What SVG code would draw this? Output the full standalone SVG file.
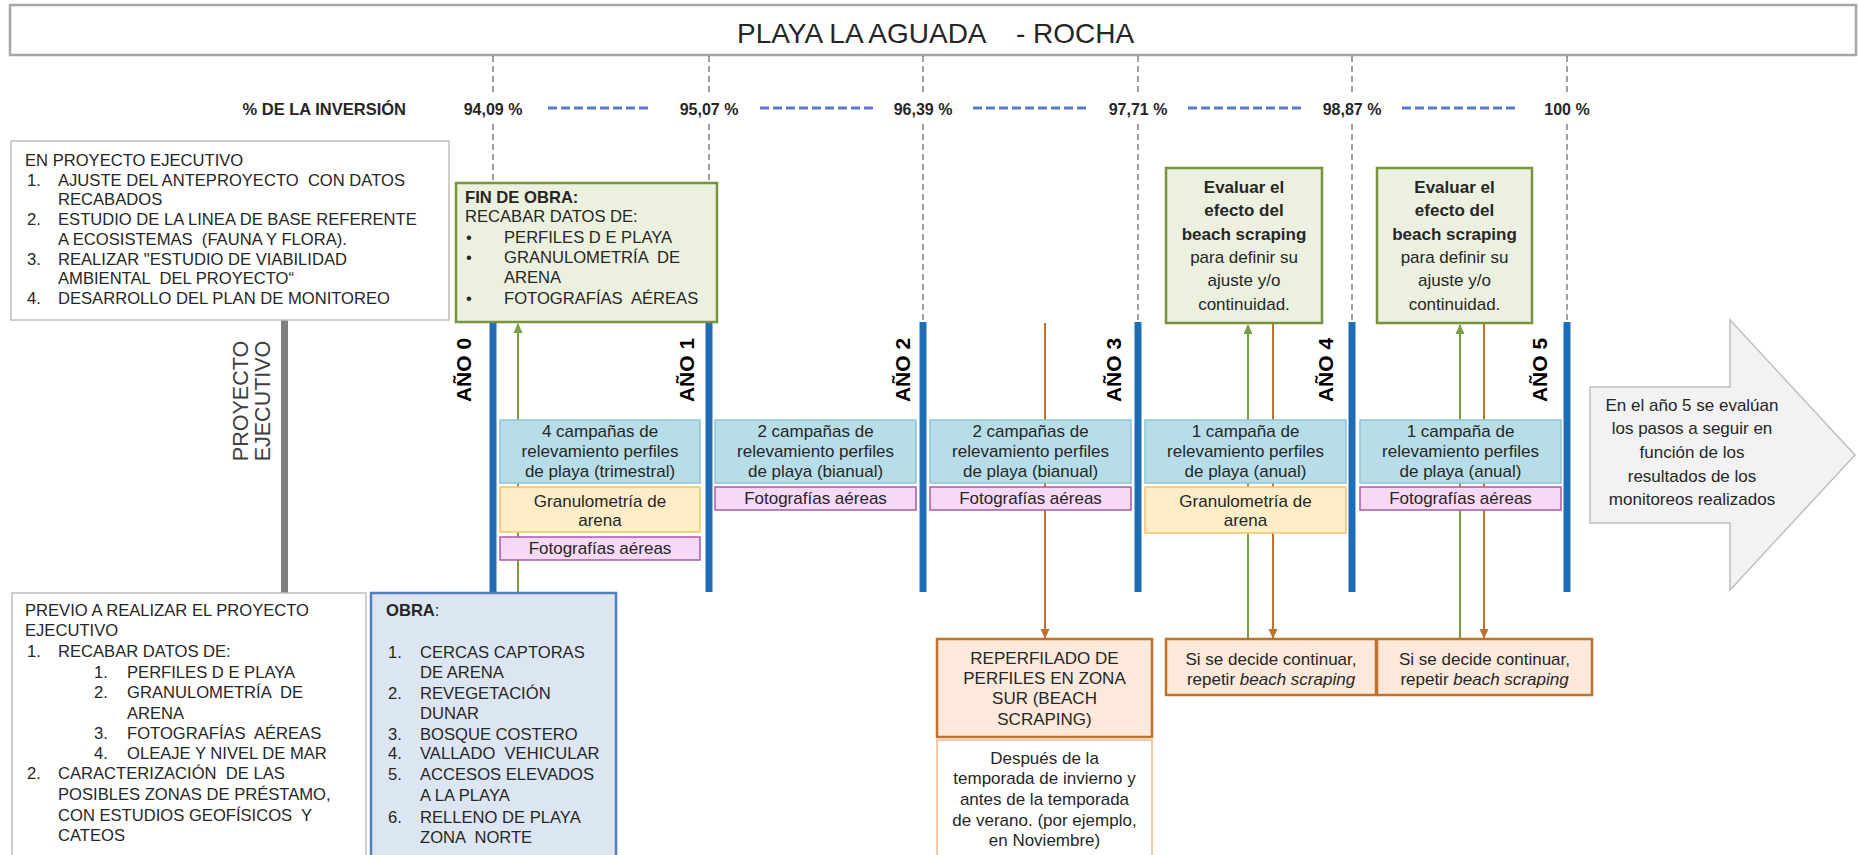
<svg xmlns="http://www.w3.org/2000/svg" width="1859" height="855" viewBox="0 0 1859 855">
<defs>
<marker id="ag" markerWidth="12" markerHeight="12" refX="9" refY="5" orient="auto" markerUnits="userSpaceOnUse"><path d="M0,0.5 L10,5 L0,9.5 Z" fill="#77A043"/></marker>
<marker id="ab" markerWidth="12" markerHeight="12" refX="9" refY="5" orient="auto" markerUnits="userSpaceOnUse"><path d="M0,0.5 L10,5 L0,9.5 Z" fill="#C0712E"/></marker>
</defs>
<style>
text{font-family:'Liberation Sans',Arial,Helvetica,sans-serif;fill:#262626}
.p{white-space:pre}
.u{font-size:16.6px}
.m{font-size:17px}
.c{text-anchor:middle}
.b{font-weight:bold}
.yr{font-size:21px;font-weight:bold;fill:#000;text-anchor:middle}
.pct{font-size:16px;font-weight:bold;text-anchor:middle}
.gray{fill:#fff;stroke:#BFBFBF;stroke-width:1.5}
.grn{fill:#EBF1DE;stroke:#77933C;stroke-width:2.5}
.org{fill:#FCE9DB;stroke:#C0712E;stroke-width:2.5}
.info{fill:#B7DEE8;stroke:#8EC5D6;stroke-width:1.5}
.yel{fill:#FEEDC6;stroke:#F2C46E;stroke-width:1.5}
.pnk{fill:#F7D8F5;stroke:#A75BA8;stroke-width:1.5}
.ydash{stroke:#404040;stroke-width:1;stroke-dasharray:6 4;fill:none}
.pdash{stroke:#5B7BC4;stroke-width:3;stroke-dasharray:9 4;fill:none}
.bar{fill:#1F6DB5}
.lg{stroke:#77A043;stroke-width:2;fill:none}
.lb{stroke:#C0712E;stroke-width:2;fill:none}
</style>

<g id="title">
<rect x="10" y="5" width="1846" height="50" fill="#fff" stroke="#A6A6A6" stroke-width="2.5"/>
<text x="737" y="43" style="font-size:28px">PLAYA LA AGUADA</text>
<text x="1016" y="43" style="font-size:28px">- ROCHA</text>
</g>

<g id="investment">
<text x="406" y="115" class="b" style="font-size:16.5px;text-anchor:end">% DE LA INVERSIÓN</text>
<text x="493" y="115" class="pct">94,09 %</text>
<text x="709" y="115" class="pct">95,07 %</text>
<text x="923" y="115" class="pct">96,39 %</text>
<text x="1138" y="115" class="pct">97,71 %</text>
<text x="1352" y="115" class="pct">98,87 %</text>
<text x="1567" y="115" class="pct">100 %</text>
</g>

<g id="connectors">
<path class="pdash" d="M548,108H650M760,108H873M973,108H1088M1188,108H1303M1402,108H1518"/>
<path class="ydash" d="M493,56V92M493,124V322M709,56V92M709,124V322M923,56V92M923,124V322M1138,56V92M1138,124V322M1352,56V92M1352,124V322M1567,56V92M1567,124V322"/>
<rect class="bar" x="489.5" y="322" width="7" height="270"/>
<rect class="bar" x="705.5" y="322" width="7" height="270"/>
<rect class="bar" x="919.5" y="322" width="7" height="270"/>
<rect class="bar" x="1134.5" y="322" width="7" height="270"/>
<rect class="bar" x="1348.5" y="322" width="7" height="270"/>
<rect class="bar" x="1563.5" y="322" width="7" height="270"/>
<rect x="281" y="320" width="7" height="273" fill="#7F7F7F"/>
<line class="lg" x1="518" y1="593" x2="518" y2="324" marker-end="url(#ag)"/>
<line class="lb" x1="1045" y1="323" x2="1045" y2="638" marker-end="url(#ab)"/>
<line class="lg" x1="1248" y1="639" x2="1248" y2="325" marker-end="url(#ag)"/>
<line class="lb" x1="1273" y1="323" x2="1273" y2="638" marker-end="url(#ab)"/>
<line class="lg" x1="1460" y1="639" x2="1460" y2="325" marker-end="url(#ag)"/>
<line class="lb" x1="1484" y1="323" x2="1484" y2="638" marker-end="url(#ab)"/>
</g>

<g id="years">
<text class="yr" transform="translate(471,370) rotate(-90)">AÑO 0</text>
<text class="yr" transform="translate(694,370) rotate(-90)">AÑO 1</text>
<text class="yr" transform="translate(910,370) rotate(-90)">AÑO 2</text>
<text class="yr" transform="translate(1121,370) rotate(-90)">AÑO 3</text>
<text class="yr" transform="translate(1333,370) rotate(-90)">AÑO 4</text>
<text class="yr" transform="translate(1547,370) rotate(-90)">AÑO 5</text>
</g>

<g id="proyecto-ejecutivo-label">
<text class="c" style="font-size:21.5px;fill:#404040" transform="translate(248,401) rotate(-90)">PROYECTO</text>
<text class="c" style="font-size:21.5px;fill:#404040" transform="translate(270,401) rotate(-90)">EJECUTIVO</text>
</g>

<g id="en-proyecto">
<rect class="gray" x="11" y="141" width="438" height="179"/>
<text class="u" x="25" y="166">EN PROYECTO EJECUTIVO</text>
<text class="u" x="27" y="185.7">1.</text><text class="u p" x="58" y="185.7">AJUSTE DEL ANTEPROYECTO  CON DATOS</text>
<text class="u" x="58" y="205.4">RECABADOS</text>
<text class="u" x="27" y="225.1">2.</text><text class="u" x="58" y="225.1">ESTUDIO DE LA LINEA DE BASE REFERENTE</text>
<text class="u p" x="58" y="244.8">A ECOSISTEMAS  (FAUNA Y FLORA).</text>
<text class="u" x="27" y="264.5">3.</text><text class="u" x="58" y="264.5">REALIZAR "ESTUDIO DE VIABILIDAD</text>
<text class="u p" x="58" y="284.2">AMBIENTAL  DEL PROYECTO“</text>
<text class="u" x="27" y="303.9">4.</text><text class="u" x="58" y="303.9">DESARROLLO DEL PLAN DE MONITOREO</text>
</g>

<g id="fin-de-obra">
<rect class="grn" x="456" y="183" width="261" height="139"/>
<text class="u b" x="465" y="203">FIN DE OBRA:</text>
<text class="u" x="465" y="222">RECABAR DATOS DE:</text>
<text class="u" x="466" y="243">•</text><text class="u" x="504" y="243">PERFILES D E PLAYA</text>
<text class="u" x="466" y="263">•</text><text class="u p" x="504" y="263">GRANULOMETRÍA  DE</text>
<text class="u" x="504" y="283">ARENA</text>
<text class="u" x="466" y="304">•</text><text class="u p" x="504" y="304">FOTOGRAFÍAS  AÉREAS</text>
</g>

<g id="evaluar-1">
<rect class="grn" x="1166" y="168" width="156" height="155"/>
<text class="m c b" x="1244" y="193">Evaluar el</text>
<text class="m c b" x="1244" y="216.3">efecto del</text>
<text class="m c b" x="1244" y="239.6">beach scraping</text>
<text class="m c" x="1244" y="262.9">para definir su</text>
<text class="m c" x="1244" y="286.2">ajuste y/o</text>
<text class="m c" x="1244" y="309.5">continuidad.</text>
</g>

<g id="evaluar-2">
<rect class="grn" x="1377" y="168" width="155" height="155"/>
<text class="m c b" x="1454.5" y="193">Evaluar el</text>
<text class="m c b" x="1454.5" y="216.3">efecto del</text>
<text class="m c b" x="1454.5" y="239.6">beach scraping</text>
<text class="m c" x="1454.5" y="262.9">para definir su</text>
<text class="m c" x="1454.5" y="286.2">ajuste y/o</text>
<text class="m c" x="1454.5" y="309.5">continuidad.</text>
</g>

<g id="campanas-0-1">
<rect class="info" x="500" y="420" width="200" height="63"/>
<text class="m c" x="600" y="437">4 campañas de</text>
<text class="m c" x="600" y="457">relevamiento perfiles</text>
<text class="m c" x="600" y="477">de playa (trimestral)</text>
</g>
<g id="granulometria-0-1">
<rect class="yel" x="500" y="487" width="200" height="45"/>
<text class="m c" x="600" y="507">Granulometría de</text>
<text class="m c" x="600" y="526">arena</text>
</g>
<g id="fotos-0-1">
<rect class="pnk" x="500" y="537" width="200" height="23"/>
<text class="m c" x="600" y="554">Fotografías aéreas</text>
</g>

<g id="campanas-1-2">
<rect class="info" x="715" y="420" width="201" height="63"/>
<text class="m c" x="815.5" y="437">2 campañas de</text>
<text class="m c" x="815.5" y="457">relevamiento perfiles</text>
<text class="m c" x="815.5" y="477">de playa (bianual)</text>
</g>
<g id="fotos-1-2">
<rect class="pnk" x="715" y="487" width="201" height="23"/>
<text class="m c" x="815.5" y="504">Fotografías aéreas</text>
</g>

<g id="campanas-2-3">
<rect class="info" x="930" y="420" width="201" height="63"/>
<text class="m c" x="1030.5" y="437">2 campañas de</text>
<text class="m c" x="1030.5" y="457">relevamiento perfiles</text>
<text class="m c" x="1030.5" y="477">de playa (bianual)</text>
</g>
<g id="fotos-2-3">
<rect class="pnk" x="930" y="487" width="201" height="23"/>
<text class="m c" x="1030.5" y="504">Fotografías aéreas</text>
</g>

<g id="campanas-3-4">
<rect class="info" x="1145" y="420" width="201" height="63"/>
<text class="m c" x="1245.5" y="437">1 campaña de</text>
<text class="m c" x="1245.5" y="457">relevamiento perfiles</text>
<text class="m c" x="1245.5" y="477">de playa (anual)</text>
</g>
<g id="granulometria-3-4">
<rect class="yel" x="1145" y="487" width="201" height="46"/>
<text class="m c" x="1245.5" y="507">Granulometría de</text>
<text class="m c" x="1245.5" y="526">arena</text>
</g>

<g id="campanas-4-5">
<rect class="info" x="1360" y="420" width="201" height="63"/>
<text class="m c" x="1460.5" y="437">1 campaña de</text>
<text class="m c" x="1460.5" y="457">relevamiento perfiles</text>
<text class="m c" x="1460.5" y="477">de playa (anual)</text>
</g>
<g id="fotos-4-5">
<rect class="pnk" x="1360" y="487" width="201" height="23"/>
<text class="m c" x="1460.5" y="504">Fotografías aéreas</text>
</g>

<g id="next-steps">
<path d="M1590,387H1730V320L1855,455L1730,590V523H1590Z" fill="#F2F2F2" stroke="#BFBFBF" stroke-width="1.5"/>
<text class="m c" x="1692" y="411">En el año 5 se evalúan</text>
<text class="m c" x="1692" y="434">los pasos a seguir en</text>
<text class="m c" x="1692" y="458">función de los</text>
<text class="m c" x="1692" y="482">resultados de los</text>
<text class="m c" x="1692" y="505">monitoreos realizados</text>
</g>

<g id="reperfilado">
<rect class="org" x="937" y="639" width="215" height="98"/>
<text class="m c" x="1044.5" y="664">REPERFILADO DE</text>
<text class="m c" x="1044.5" y="684">PERFILES EN ZONA</text>
<text class="m c" x="1044.5" y="704">SUR (BEACH</text>
<text class="m c" x="1044.5" y="725">SCRAPING)</text>
</g>

<g id="despues">
<rect x="937" y="740" width="215" height="125" fill="#fff" stroke="#F1B88A" stroke-width="1.5"/>
<text class="m c" x="1044.5" y="764">Después de la</text>
<text class="m c" x="1044.5" y="784">temporada de invierno y</text>
<text class="m c" x="1044.5" y="805">antes de la temporada</text>
<text class="m c" x="1044.5" y="826">de verano. (por ejemplo,</text>
<text class="m c" x="1044.5" y="846">en Noviembre)</text>
</g>

<g id="repetir-1">
<rect class="org" x="1166" y="639" width="210" height="56"/>
<text class="m c" x="1271" y="665">Si se decide continuar,</text>
<text class="m c" x="1271" y="685">repetir <tspan font-style="italic">beach scraping</tspan></text>
</g>

<g id="repetir-2">
<rect class="org" x="1377" y="639" width="215" height="56"/>
<text class="m c" x="1484.5" y="665">Si se decide continuar,</text>
<text class="m c" x="1484.5" y="685">repetir <tspan font-style="italic">beach scraping</tspan></text>
</g>

<g id="previo">
<rect class="gray" x="12" y="593" width="354" height="270"/>
<text class="u" x="25" y="616">PREVIO A REALIZAR EL PROYECTO</text>
<text class="u" x="25" y="636">EJECUTIVO</text>
<text class="u" x="27" y="657">1.</text><text class="u" x="58" y="657">RECABAR DATOS DE:</text>
<text class="u" x="94" y="678">1.</text><text class="u" x="127" y="678">PERFILES D E PLAYA</text>
<text class="u" x="94" y="698">2.</text><text class="u p" x="127" y="698">GRANULOMETRÍA  DE</text>
<text class="u" x="127" y="719">ARENA</text>
<text class="u" x="94" y="739">3.</text><text class="u p" x="127" y="739">FOTOGRAFÍAS  AÉREAS</text>
<text class="u" x="94" y="759">4.</text><text class="u" x="127" y="759">OLEAJE Y NIVEL DE MAR</text>
<text class="u" x="27" y="779">2.</text><text class="u p" x="58" y="779">CARACTERIZACIÓN  DE LAS</text>
<text class="u" x="58" y="800">POSIBLES ZONAS DE PRÉSTAMO,</text>
<text class="u p" x="58" y="821">CON ESTUDIOS GEOFÍSICOS  Y</text>
<text class="u" x="58" y="841">CATEOS</text>
</g>

<g id="obra">
<rect x="371" y="593" width="245" height="270" fill="#DCE6F2" stroke="#4F81BD" stroke-width="2.5"/>
<text class="u" x="386" y="616"><tspan font-weight="bold">OBRA</tspan>:</text>
<text class="u" x="388" y="658">1.</text><text class="u" x="420" y="658">CERCAS CAPTORAS</text>
<text class="u" x="420" y="678">DE ARENA</text>
<text class="u" x="388" y="699">2.</text><text class="u" x="420" y="699">REVEGETACIÓN</text>
<text class="u" x="420" y="719">DUNAR</text>
<text class="u" x="388" y="740">3.</text><text class="u" x="420" y="740">BOSQUE COSTERO</text>
<text class="u" x="388" y="759">4.</text><text class="u p" x="420" y="759">VALLADO  VEHICULAR</text>
<text class="u" x="388" y="780">5.</text><text class="u" x="420" y="780">ACCESOS ELEVADOS</text>
<text class="u" x="420" y="801">A LA PLAYA</text>
<text class="u" x="388" y="823">6.</text><text class="u" x="420" y="823">RELLENO DE PLAYA</text>
<text class="u p" x="420" y="843">ZONA  NORTE</text>
</g>
</svg>
